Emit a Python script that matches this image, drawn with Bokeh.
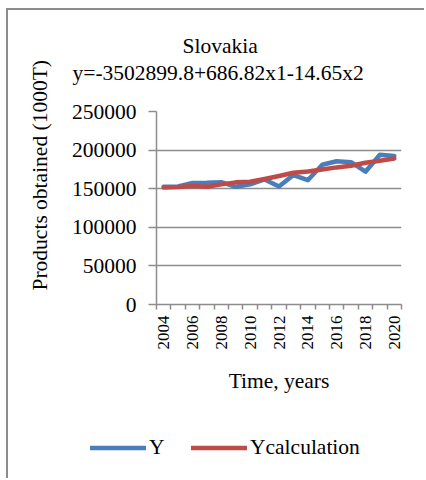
from bokeh.plotting import figure
from bokeh.models import (Range1d, FixedTicker, Title, Legend, LegendItem,
                          BasicTickFormatter)
from bokeh.embed import file_html
from bokeh.resources import INLINE
import math

years = list(range(2004, 2021))
y_actual = [152500, 153000, 157500, 157700, 158500, 152500, 155600, 162000,
            152800, 167700, 161000, 181000, 185500, 184300, 172000, 194000, 192500]
y_calc = [151700, 152200, 153400, 152600, 155600, 158200, 159000, 162500,
          166400, 170700, 172400, 175000, 177600, 179700, 183600, 186200, 189200]
x_tick_labels = [2004, 2006, 2008, 2010, 2012, 2014, 2016, 2018, 2020]
y_ticks = [0, 50000, 100000, 150000, 200000, 250000]
series_names = ["Y", "Ycalculation"]

FONT = "Times New Roman"
FS = "21.5px"
GRAY = "#8c8c8c"
BLUE = "#4a7ebb"
RED = "#be4b48"

p = figure(width=418, height=400, output_backend="svg", toolbar_location=None,
           x_range=Range1d(2003.5, 2020.5), y_range=Range1d(0, 250000),
           min_border_left=148, min_border_right=25, min_border_top=101,
           min_border_bottom=106)
p.styles = {"margin-left": "6px", "margin-top": "8px",
            "border-left": "2px solid #8c8c8c",
            "border-top": "2px solid #8c8c8c"}
p.outline_line_color = None
p.background_fill_color = None
p.border_fill_color = None

spacer = Title(text=" ", text_font=FONT, text_font_size="18px", standoff=4)
p.add_layout(spacer, "above")
eq = Title(text="y=-3502899.8+686.82x1-14.65x2", align="left", offset=-84,
           text_font=FONT, text_font_size=FS, text_font_style="normal",
           text_color="black", standoff=2)
p.add_layout(eq, "above")
ttl = Title(text="Slovakia", align="left", offset=26,
            text_font=FONT, text_font_size=FS, text_font_style="normal",
            text_color="black", standoff=0)
p.add_layout(ttl, "above")

p.line(years, y_actual, line_color=BLUE, line_width=4.5,
       line_cap="round", line_join="round")
p.line(years, y_calc, line_color=RED, line_width=4.5,
       line_cap="round", line_join="round")

# x axis
xa = p.xaxis[0]
xa.ticker = FixedTicker(ticks=x_tick_labels,
                        minor_ticks=[y - 0.5 for y in years] + [years[-1] + 0.5])
xa.major_tick_line_color = None
xa.major_tick_out = 5
xa.major_tick_in = 0
xa.minor_tick_out = 5
xa.minor_tick_in = 0
xa.minor_tick_line_color = GRAY
xa.minor_tick_line_width = 1.5
xa.axis_line_color = GRAY
xa.axis_line_width = 1.5
xa.major_label_orientation = math.pi / 2
xa.major_label_text_font = FONT
xa.major_label_text_font_size = "17px"
xa.major_label_text_color = "black"
xa.major_label_standoff = 6
xa.axis_label = "Time, years"
xa.axis_label_text_font = FONT
xa.axis_label_text_font_size = FS
xa.axis_label_text_font_style = "normal"
xa.axis_label_text_color = "black"
xa.axis_label_standoff = 16

# y axis
ya = p.yaxis[0]
ya.ticker = FixedTicker(ticks=y_ticks)
ya.formatter = BasicTickFormatter(use_scientific=False)
ya.major_tick_out = 8
ya.major_tick_in = 0
ya.minor_tick_line_color = None
ya.major_tick_line_color = GRAY
ya.major_tick_line_width = 1.5
ya.axis_line_color = GRAY
ya.axis_line_width = 1.5
ya.major_label_text_font = FONT
ya.major_label_text_font_size = FS
ya.major_label_text_color = "black"
ya.major_label_standoff = 12

# y axis title placed in the left panel, shifted upward like the original
ytitle = Title(text="Products obtained (1000T)", align="left", offset=14,
               text_font=FONT, text_font_size=FS, text_font_style="normal",
               text_color="black", standoff=34)
p.add_layout(ytitle, "left")

p.xgrid.grid_line_color = None
p.ygrid.grid_line_color = GRAY
p.ygrid.grid_line_width = 1.5

# legend strip below the chart (separate root, so frames are not aligned)
q = figure(width=418, height=70, output_backend="svg", toolbar_location=None,
           x_axis_type=None, y_axis_type=None,
           x_range=Range1d(0, 1), y_range=Range1d(0, 1),
           min_border_left=0, min_border_right=0, min_border_top=0,
           min_border_bottom=0)
q.styles = {"margin-left": "6px", "border-left": "2px solid #8c8c8c"}
q.outline_line_color = None
q.background_fill_color = None
q.border_fill_color = None
q.xgrid.visible = False
q.ygrid.visible = False
# series drawn outside this strip's ranges: only their legend swatches show
l1 = q.line(years, y_actual, line_color=BLUE, line_width=4.5, line_cap="round")
l2 = q.line(years, y_calc, line_color=RED, line_width=4.5, line_cap="round")
legend = Legend(items=[LegendItem(label=series_names[0], renderers=[l1]),
                       LegendItem(label=series_names[1], renderers=[l2])],
                orientation="horizontal", location=(82, 18),
                glyph_width=56, glyph_height=21, label_standoff=3, spacing=22,
                padding=0, margin=0, border_line_color=None,
                background_fill_alpha=0, label_text_font=FONT,
                label_text_font_size=FS, label_text_color="black")
q.add_layout(legend, "center")

open("out.html", "w").write(file_html([p, q], INLINE))
